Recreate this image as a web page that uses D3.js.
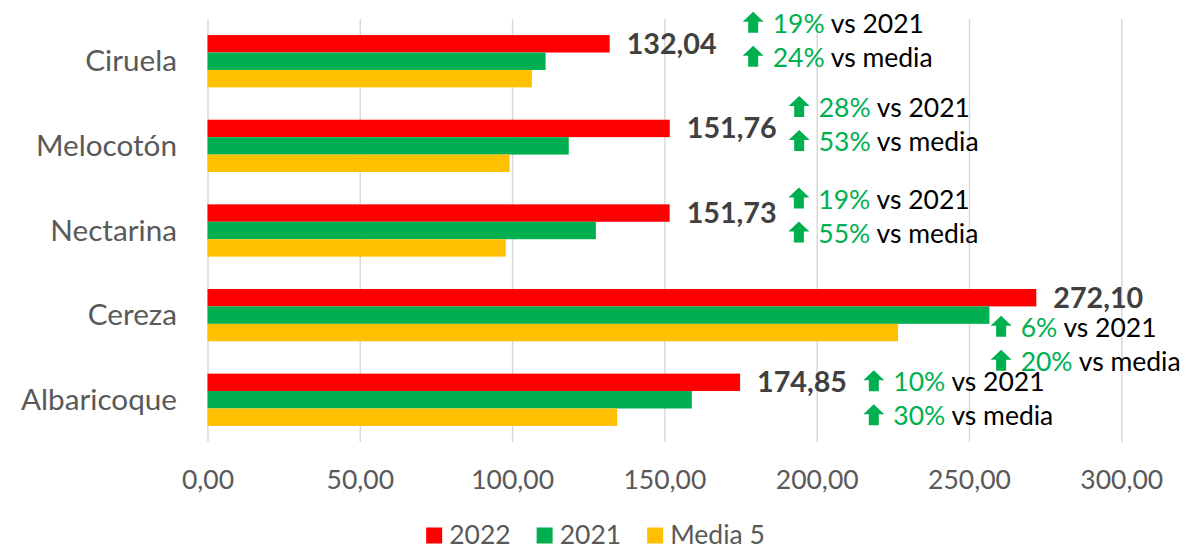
<!DOCTYPE html>
<html><head><meta charset="utf-8">
<script src="https://cdn.jsdelivr.net/npm/d3@7"></script>
<style>html,body{margin:0;padding:0;background:#fff;}svg{display:block;font-family:Lato,"Open Sans",sans-serif;}</style>
</head><body>
<svg id="chart" width="1191" height="547"></svg>
<script>
const categories = ["Ciruela", "Melocotón", "Nectarina", "Cereza", "Albaricoque"];
const values2022 = [132.04, 151.76, 151.73, 272.10, 174.85];
const values2021 = [111.0, 118.6, 127.5, 256.7, 159.0];
const valuesMedia = [106.5, 99.2, 97.9, 226.7, 134.5];
const seriesNames = ["2022", "2021", "Media 5"];
const pctVs2021 = ["19%", "28%", "19%", "6%", "10%"];
const pctVsMedia = ["24%", "53%", "55%", "20%", "30%"];
const xTicks = [0, 50, 100, 150, 200, 250, 300];

// annotation placement (x in data units, baseline offset from category centre in px)
const annotAt = [175.7, 190.8, 190.7, 257.1, 215.3];
const annotDy = [-28.5, -28.8, -22, 21.5, -8.5];

const colors = ["#FF0000", "#00B050", "#FFC000"];
const W = 1191, H = 547;
const svg = d3.select("#chart");
const loc = d3.formatLocale({decimal: ",", thousands: ".", grouping: [3], currency: ["", "€"]});
const fmt = loc.format(".2f");

const x = d3.scaleLinear().domain([0, 300]).range([207.5, 1121.3]);
const y = d3.scaleBand().domain(categories).range([19, 442]).paddingInner(0.382).paddingOuter(0.19);
const ys = d3.scaleBand().domain(seriesNames).range([0, y.bandwidth()]);

// gridlines
const grid = svg.append("g").attr("transform", "translate(0,442)")
  .call(d3.axisBottom(x).tickValues(xTicks).tickSize(-423).tickFormat(""));
grid.select(".domain").remove();
grid.selectAll(".tick line").attr("stroke", "#D9D9D9").attr("stroke-width", 1.5);

// tick labels
const ax = svg.append("g").attr("transform", "translate(0,442)")
  .call(d3.axisBottom(x).tickValues(xTicks).tickSize(0).tickPadding(0).tickFormat(d => fmt(d)));
ax.select(".domain").remove();
ax.selectAll(".tick text").attr("y", 47).attr("dy", 0)
  .attr("fill", "#595959").attr("font-size", 26.5).attr("font-family", "Lato");

// bars
const rows = categories.map((c, i) => ({c, vals: [values2022[i], values2021[i], valuesMedia[i]]}));
const g = svg.append("g");
rows.forEach(r => {
  g.selectAll(null).data(r.vals).enter().append("rect")
    .attr("x", x(0))
    .attr("y", (d, j) => y(r.c) + ys(seriesNames[j]))
    .attr("width", d => x(d) - x(0))
    .attr("height", ys.bandwidth())
    .attr("fill", (d, j) => colors[j]);
});

// category labels
svg.append("g").selectAll("text").data(categories).enter().append("text")
  .attr("x", x(0) - 30.5)
  .attr("y", d => y(d) + y.bandwidth() / 2 + 10)
  .attr("text-anchor", "end").attr("fill", "#595959").attr("font-size", 29.7)
  .text(d => d);

// data labels for 2022
svg.append("g").selectAll("text").data(categories).enter().append("text")
  .attr("x", (d, i) => x(values2022[i]) + 17)
  .attr("y", d => y(d) + ys("2022") + ys.bandwidth() / 2 + 10)
  .attr("fill", "#404040").attr("font-size", 28.7).attr("font-weight", "bold")
  .text((d, i) => fmt(values2022[i]));

// annotations
function arrow(sel, ax0, base) {
  const w = 21, h = 21, stem = 10, head = 10;
  const cx = ax0 + w / 2;
  const top = base - h;
  sel.append("path")
    .attr("d", `M${cx},${top} L${ax0 + w},${top + head} L${cx + stem / 2},${top + head} L${cx + stem / 2},${base} L${cx - stem / 2},${base} L${cx - stem / 2},${top + head} L${ax0},${top + head} Z`)
    .attr("fill", "#00B050");
}
const an = svg.append("g");
categories.forEach((c, i) => {
  const ax0 = x(annotAt[i]);
  const b1 = y(c) + y.bandwidth() / 2 + annotDy[i];
  const lines = [[pctVs2021[i], " vs 2021"], [pctVsMedia[i], " vs media"]];
  lines.forEach((ln, k) => {
    const base = b1 + k * 34;
    arrow(an, ax0, base);
    const t = an.append("text").attr("x", ax0 + 30).attr("y", base).attr("font-size", 26.5);
    t.append("tspan").attr("fill", "#00B050").text(ln[0]);
    t.append("tspan").attr("fill", "#000000").text(ln[1]);
  });
});

// legend
const lg = svg.append("g");
let cur = 0;
seriesNames.forEach((s, j) => {
  const it = lg.append("g");
  it.append("rect").attr("x", 0).attr("y", 527.5).attr("width", 16).attr("height", 16).attr("fill", colors[j]);
  const t = it.append("text").attr("x", 23).attr("y", 543.5).attr("fill", "#595959").attr("font-size", 26.5).text(s);
  const wdt = 23 + t.node().getComputedTextLength();
  it.attr("transform", `translate(${cur},0)`);
  cur += wdt + 26;
});
const total = cur - 26;
lg.attr("transform", `translate(${(W - total) / 2},0)`);
</script>
</body></html>
